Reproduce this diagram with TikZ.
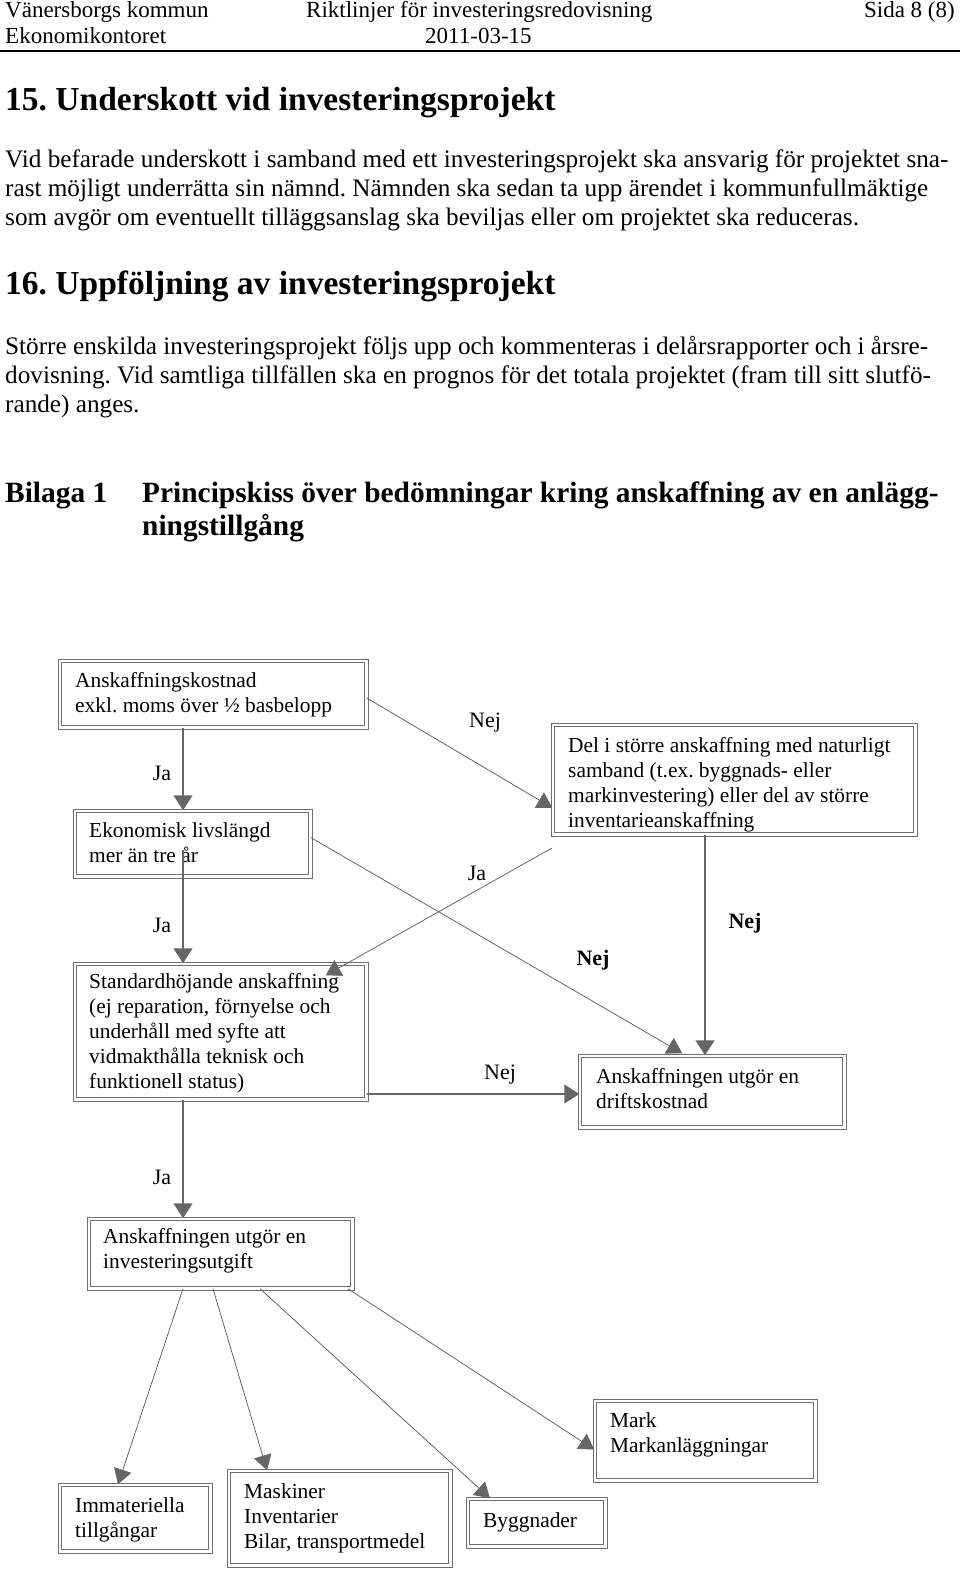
\documentclass[tikz,border=0pt]{standalone}
\usepackage{fontspec}
\setmainfont{Liberation Serif}
\usetikzlibrary{arrows.meta,calc}
\definecolor{boxgray}{HTML}{707070}
\definecolor{arrgray}{HTML}{666666}
\definecolor{linegray}{HTML}{555555}
\newcommand{\dtext}[1]{\parbox[t]{420pt}{\fontsize{21.4}{25}\selectfont #1}}
\newcommand{\bodyfont}{\fontsize{25.2}{29}\selectfont}
\newcommand{\headfont}{\fontsize{23}{26}\selectfont}
\newcommand{\titlefont}{\bfseries\fontsize{33.5}{37}\selectfont}
\newcommand{\bilfont}{\bfseries\fontsize{29.4}{33}\selectfont}
\frenchspacing
\begin{document}
\begin{tikzpicture}[x=1pt,y=-1pt,
  box/.style={draw=boxgray, double=white, double distance=2.5pt, line width=1pt, fill=white, anchor=north west, inner sep=0pt},
  txt/.style={anchor=base west, inner sep=0pt, text=black},
  lab/.style={inner sep=0pt, font=\fontsize{22}{24}\selectfont},
  blab/.style={inner sep=0pt, font=\bfseries\fontsize{22}{24}\selectfont},
  vline/.style={draw=arrgray, line width=1.6pt, -{Triangle[length=15pt,width=19pt]}},
  dline/.style={draw=linegray, line width=0.7pt, -{Triangle[length=15pt,width=18pt,color=arrgray]}}
]
\useasboundingbox (0,0) rectangle (960,1569);
\fill[white] (0,0) rectangle (960,1569);

% ---------- page header and text ----------
\node[txt] (hl1) at (5,17) {\headfont Vänersborgs kommun};
\node[txt] (hm1) at (306,17) {\headfont Riktlinjer för investeringsredovisning};
\node[anchor=base east, inner sep=0pt] (hr1) at (955,17) {\headfont Sida 8 (8)};
\node[txt] (hl2) at (5,43) {\headfont Ekonomikontoret};
\node[txt] (hm2) at (425,43) {\headfont 2011-03-15};
\coordinate (rl) at (0,51);
\coordinate (rr) at (960,51);
\draw[line width=1.4pt] (rl) -- (rr);

\node[txt] (t15) at (5,110) {\titlefont 15. Underskott vid investeringsprojekt};
\node[txt] (p1a) at (5,167) {\bodyfont Vid befarade underskott i samband med ett investeringsprojekt ska ansvarig för projektet sna-};
\node[txt] (p1b) at (5,196) {\bodyfont rast möjligt underrätta sin nämnd. Nämnden ska sedan ta upp ärendet i kommunfullmäktige};
\node[txt] (p1c) at (5,225) {\bodyfont som avgör om eventuellt tilläggsanslag ska beviljas eller om projektet ska reduceras.};

\node[txt] (t16) at (5,294) {\titlefont 16. Uppföljning av investeringsprojekt};
\node[txt] (p2a) at (5,354) {\bodyfont Större enskilda investeringsprojekt följs upp och kommenteras i delårsrapporter och i årsre-};
\node[txt] (p2b) at (5,383) {\bodyfont dovisning. Vid samtliga tillfällen ska en prognos för det totala projektet (fram till sitt slutfö-};
\node[txt] (p2c) at (5,412) {\bodyfont rande) anges.};

\node[txt] (bil) at (5,502) {\bilfont Bilaga 1};
\node[txt] (bila) at (142,502) {\bilfont Principskiss över bedömningar kring anskaffning av en anlägg-};
\node[txt] (bilb) at (142,535) {\bilfont ningstillgång};

% ---------- boxes ----------
\node[box, minimum width=306.5pt, minimum height=66.5pt] (A1) at (59.25,660.25) {};
\node[box, minimum width=235.5pt, minimum height=65.5pt] (B) at (74.25,810.25) {};
\node[box, minimum width=362.5pt, minimum height=109.5pt] (D) at (552.25,724.25) {};
\node[box, minimum width=291.5pt, minimum height=135.5pt] (S) at (74.25,963.25) {};
\node[box, minimum width=264.5pt, minimum height=71.5pt] (R) at (579.25,1055.25) {};
\node[box, minimum width=263.5pt, minimum height=69.5pt] (I) at (88.25,1218.25) {};
\node[box, minimum width=150.5pt, minimum height=66.5pt] (Im) at (59.25,1484.25) {};
\node[box, minimum width=221.5pt, minimum height=94.5pt] (M) at (228.25,1470.25) {};
\node[box, minimum width=137.5pt, minimum height=47.5pt] (By) at (467.25,1498.25) {};
\node[box, minimum width=220.5pt, minimum height=79.5pt] (Mk) at (594.25,1400.25) {};

% ---------- box texts ----------
\node[txt] (A1t) at (75,687) {\dtext{Anskaffningskostnad\\exkl. moms över ½ basbelopp}};
\node[txt] (Bt) at (89,837) {\dtext{Ekonomisk livslängd\\mer än tre år}};
\node[txt] (Dt) at (568,752) {\dtext{Del i större anskaffning med naturligt\\samband (t.ex. byggnads- eller\\markinvestering) eller del av större\\inventarieanskaffning}};
\node[txt] (St) at (89,988) {\dtext{Standardhöjande anskaffning\\(ej reparation, förnyelse och\\underhåll med syfte att\\vidmakthålla teknisk och\\funktionell status)}};
\node[txt] (Rt) at (596,1083) {\dtext{Anskaffningen utgör en\\driftskostnad}};
\node[txt] (It) at (103,1243) {\dtext{Anskaffningen utgör en\\investeringsutgift}};
\node[txt] (Imt) at (75,1512) {\dtext{Immateriella\\tillgångar}};
\node[txt] (Mt) at (244,1498) {\dtext{Maskiner\\Inventarier\\Bilar, transportmedel}};
\node[txt] (Byt) at (483,1527) {\dtext{Byggnader}};
\node[txt] (Mkt) at (610,1427) {\dtext{Mark\\Markanläggningar}};

% ---------- connectors ----------
\coordinate (cx) at (183,0);
\coordinate (cx2) at (705,0);
\coordinate (cy) at (0,1094);
\coordinate (bst) at (183,850);
\coordinate (dja) at (552,848);

\draw[vline] (cx |- A1.south) -- (cx |- B.north);
\draw[vline] (bst) -- (cx |- S.north);
\draw[vline] (cx |- S.south) -- (cx |- I.north);
\draw[vline] (cx2 |- D.south) -- (cx2 |- R.north);
\draw[vline] (S.east |- cy) -- (R.west |- cy);

\draw[dline] ([yshift=-4pt]A1.east) -- ([yshift=27pt]D.south west);
\draw[dline] (dja) -- ([xshift=-41pt,yshift=-12pt]S.north east);
\draw[dline] ([yshift=6pt]B.east) -- ([xshift=103pt,yshift=2pt]R.north west);

\draw[dline] ([xshift=94.75pt]I.south west) -- ([xshift=58.75pt]Im.north west);
\draw[dline] ([xshift=124.75pt]I.south west) -- ([xshift=38.75pt]M.north west);
\draw[dline] ([xshift=171.75pt]I.south west) -- ([xshift=22.75pt]By.north west);
\draw[dline] ([xshift=-4.75pt]I.south east) -- ([yshift=-9pt]Mk.west);

% ---------- labels ----------
\node[lab] (ja1) at (162,773) {Ja};
\node[lab] (ja2) at (162,925) {Ja};
\node[lab] (ja3) at (162,1177) {Ja};
\node[lab] (nej1) at (485,723) {Nej};
\node[lab] (ja4) at (477,873) {Ja};
\node[lab] (nej2) at (500,1075) {Nej};
\node[blab] (nej3) at (745,923) {Nej};
\node[blab] (nej4) at (593,960) {Nej};
\end{tikzpicture}
\end{document}
